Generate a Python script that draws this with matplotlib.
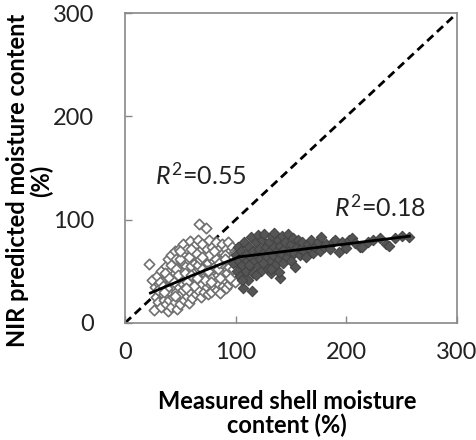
import matplotlib
matplotlib.use("Agg")
import matplotlib.pyplot as plt

plt.rcParams['font.family'] = ['Lato', 'DejaVu Sans']
plt.rcParams['mathtext.fontset'] = 'custom'
plt.rcParams['mathtext.rm'] = 'Lato'
plt.rcParams['mathtext.it'] = 'Lato:italic'

# Open diamonds (lower moisture samples)
open_x = [22, 24, 26, 27, 28, 29, 30, 31, 32, 33, 33, 34, 35, 35,
          36, 37, 37, 38, 38, 39, 39, 40, 40, 41, 41, 42, 42, 43, 43, 44, 44, 45, 45, 45,
          46, 46, 47, 47, 48, 48, 49, 49, 50, 50, 51, 51, 52, 52, 53, 53, 54, 54, 55, 55,
          56, 56, 57, 57, 58, 58, 59, 59, 60, 60, 61, 61, 62, 62, 63, 63, 64, 64, 65, 65,
          66, 66, 67, 67, 68, 68, 69, 69, 70, 70, 71, 71, 72, 72, 73, 73, 74, 74, 75, 75,
          76, 76, 77, 77, 78, 78, 79, 79, 80, 80, 81, 81, 82, 82, 83, 83, 84, 84, 85, 85,
          86, 86, 87, 87, 88, 88, 89, 89, 90, 90, 91, 91, 92, 92, 93, 93, 94, 94, 95, 95,
          96, 96, 97, 97, 98, 98, 99, 99, 100, 100, 101, 102, 103, 104, 105,
          30, 32, 34, 36, 38, 40, 42, 44, 46, 48, 50, 52, 54, 56, 58, 60, 62, 64, 66, 68,
          70, 72, 74, 76, 78, 80, 82, 84, 86, 88, 90, 92, 94, 96, 98, 100, 102, 104,
          35, 45, 55, 65, 75, 85, 95, 50, 60, 70, 80, 90]
open_y = [57, 42, 13, 35, 25, 45, 20, 38, 30, 15, 50, 28, 42, 22,
          35, 18, 55, 45, 28, 12, 62, 38, 22, 50, 30, 66, 15, 42, 25, 58, 35, 20, 48, 70,
          30, 62, 40, 14, 52, 25, 72, 35, 45, 18, 60, 28, 38, 76, 50, 22, 66, 32, 43, 55,
          26, 72, 36, 62, 48, 19, 79, 30, 55, 40, 68, 24, 45, 75, 34, 58, 50, 28, 64, 40,
          80, 32, 96, 52, 44, 70, 25, 60, 38, 76, 48, 30, 66, 55, 92, 42, 35, 72, 58, 28,
          46, 80, 38, 64, 52, 30, 74, 44, 60, 35, 70, 50, 40, 78, 56, 32, 66, 46, 38, 72,
          55, 29, 62, 44, 76, 50, 36, 68, 58, 42, 72, 34, 52, 64, 45, 78, 60, 38, 70, 50,
          56, 42, 66, 74, 48, 60, 70, 40, 62, 54, 72, 58, 66, 50, 68,
          32, 40, 36, 48, 34, 44, 56, 40, 52, 46, 62, 32, 48, 40, 64, 46, 36, 68, 56, 62,
          52, 42, 50, 66, 40, 54, 62, 52, 44, 58, 66, 48, 54, 62, 52, 68, 64, 58,
          30, 26, 34, 44, 50, 58, 44, 70, 72, 64, 70, 62]

# Filled diamonds (higher moisture samples)
fill_x = [98, 100, 101, 102, 103, 104, 105, 106, 107, 107, 108, 109, 110, 110, 111, 112,
          113, 114, 114, 115, 116, 116, 117, 118, 119, 120, 120, 121, 122, 123, 124, 125,
          126, 126, 127, 128, 129, 130, 131, 132, 132, 133, 134, 135, 135, 136, 137, 138,
          139, 140, 140, 141, 142, 143, 144, 145, 146, 147, 148, 150, 150, 152, 153, 154,
          155, 156, 158, 159, 160, 162, 164, 165, 167, 168, 170, 172, 174, 176, 177, 180,
          182, 185, 188, 190, 193, 196, 200, 202, 205, 208, 212, 214, 220, 224, 230, 236,
          239, 244, 250, 257, 106, 112, 132, 139, 118, 125]
fill_y = [58, 66, 50, 74, 60, 45, 70, 56, 34, 64, 78, 50, 68, 60, 42, 74,
          55, 83, 64, 31, 70, 48, 60, 78, 66, 55, 85, 72, 62, 50, 80, 68,
          58, 86, 74, 64, 52, 78, 70, 48, 60, 84, 66, 74, 87, 56, 70, 80,
          62, 44, 75, 68, 84, 58, 72, 78, 64, 86, 70, 60, 76, 82, 68, 54,
          74, 80, 66, 72, 78, 70, 64, 76, 72, 80, 68, 74, 78, 70, 83, 74,
          76, 72, 78, 80, 69, 78, 73, 80, 82, 77, 74, 74, 78, 80, 82, 76,
          75, 82, 84, 83, 42, 56, 52, 49, 46, 58]

# Fitted trend lines
fit_open_x = [23, 63, 103]
fit_open_y = [29, 47, 64]
fit_fill_x = [103, 150, 257]
fit_fill_y = [64, 70, 84]

xticks = [0, 100, 200, 300]
yticks = [0, 100, 200, 300]

fig = plt.figure(figsize=(4.77, 4.40), dpi=100)
ax = fig.add_axes([0.262, 0.266, 0.696, 0.704])

ax.plot([0, 300], [0, 300], color='black', lw=2, ls=(0, (3, 1.8)), zorder=1)
ax.scatter(open_x, open_y, marker='D', s=28, facecolor='white', edgecolor='#707070',
           linewidths=1.2, zorder=2)
ax.scatter(fill_x, fill_y, marker='D', s=28, facecolor='#555555', edgecolor='#444444',
           linewidths=0.8, zorder=3)
ax.plot(fit_open_x, fit_open_y, color='black', lw=2, zorder=4)
ax.plot(fit_fill_x, fit_fill_y, color='black', lw=2, zorder=4)

ax.text(27, 134, r'$R^2$=0.55', fontsize=18, va='baseline', ha='left', color='#222222')
ax.text(189, 103, r'$R^2$=0.18', fontsize=18, va='baseline', ha='left', color='#222222')

ax.set_xlim(0, 300)
ax.set_ylim(0, 300)
ax.set_xticks(xticks)
ax.set_yticks(yticks)
ax.tick_params(direction='in', length=5, width=1, color='#888888',
               labelsize=17, labelcolor='#222222')
ax.tick_params(axis='y', pad=22)
ax.tick_params(axis='x', pad=14)
for sp in ax.spines.values():
    sp.set_color('#888888')
    sp.set_linewidth(1.2)

ax.set_xlabel('Measured shell moisture\ncontent (%)', fontsize=17, fontweight='bold',
              linespacing=1.05)
ax.set_ylabel('NIR predicted moisture content\n(%)', fontsize=17, fontweight='bold',
              linespacing=1.05)
ax.xaxis.set_label_coords(0.488, -0.215)
ax.yaxis.set_label_coords(-0.215, 0.46)

fig.savefig('out.png', dpi=100)
